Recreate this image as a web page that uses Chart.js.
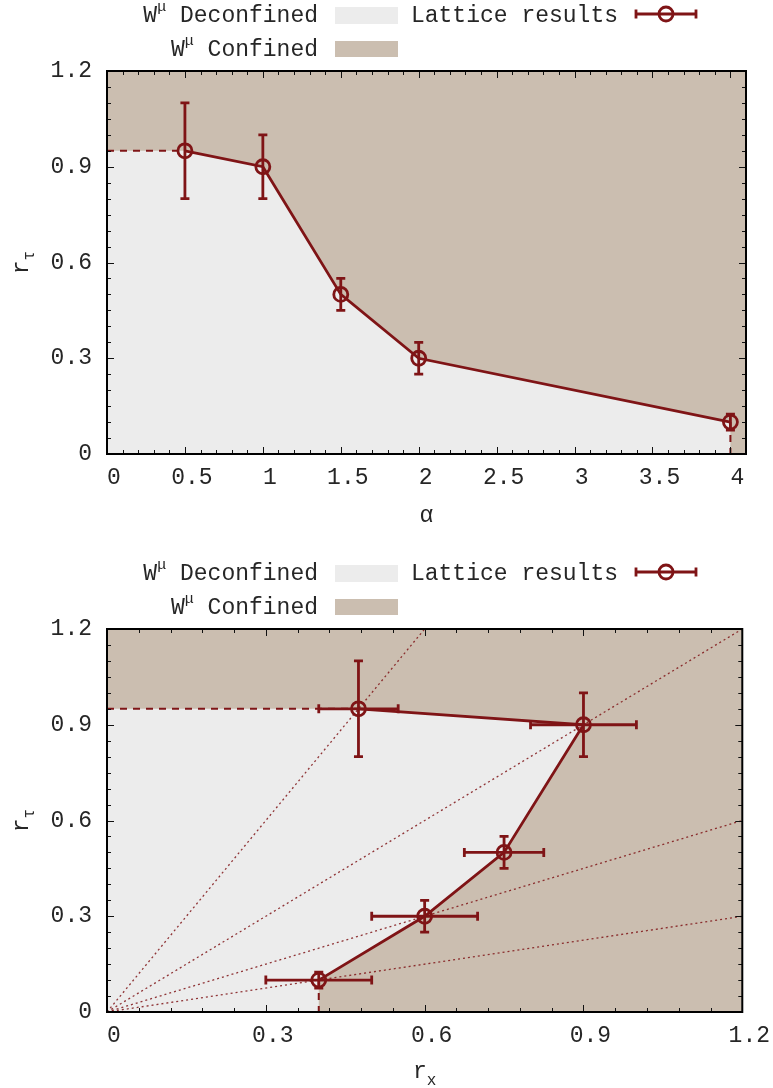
<!DOCTYPE html>
<html>
<head>
<meta charset="utf-8">
<title>Diagrama de fases</title>
<script src="https://cdn.jsdelivr.net/npm/chart.js@4.4.1/dist/chart.umd.min.js"></script>
<style>
  body { margin: 0; background: #ffffff; }
  canvas { display: block; }
</style>
</head>
<body>
<canvas id="graficoAlfa" width="773" height="558"></canvas>
<canvas id="graficoRx" width="773" height="530"></canvas>
<script>
// valores
var alfa = [0.5, 1, 1.5, 2, 4]
var rTau = [0.95, 0.9, 0.5, 0.3, 0.1]
var erroTau = [0.15, 0.1, 0.05, 0.05, 0.025]
var rX = [0.475, 0.9, 0.75, 0.6, 0.4]
var erroRx = [0.075, 0.1, 0.075, 0.1, 0.1]
var alfaRetas = [0.5, 1, 2, 4]

var ticksAlfa = [0, 0.5, 1, 1.5, 2, 2.5, 3, 3.5, 4]
var ticksRx = [0, 0.3, 0.6, 0.9, 1.2]
var ticksRTau = [0, 0.3, 0.6, 0.9, 1.2]

var vermelho = '#7f1416'
var corConfinado = '#cbbeb0'
var corDesconfinado = '#ececec'
var corTexto = '#262626'
var fonte = '"Liberation Mono", monospace'

function textoW(ctx, direita, y, resto) {
    ctx.font = '23px ' + fonte
    var lResto = ctx.measureText(' ' + resto).width
    var lW = ctx.measureText('W').width
    ctx.font = '15px ' + fonte
    var lMu = ctx.measureText('μ').width
    var x = direita - lResto - lMu - lW
    ctx.textAlign = 'left'
    ctx.textBaseline = 'alphabetic'
    ctx.font = '23px ' + fonte
    ctx.fillText('W', x, y)
    ctx.fillText(' ' + resto, direita - lResto, y)
    ctx.font = '15px ' + fonte
    ctx.fillText('μ', x + lW, y - 11)
}

function desenharLegenda(ctx) {
    ctx.save()
    ctx.fillStyle = corTexto
    textoW(ctx, 318, 22, 'Deconfined')
    textoW(ctx, 318, 56, 'Confined')
    ctx.font = '23px ' + fonte
    ctx.textAlign = 'right'
    ctx.fillText('Lattice results', 618, 22)

    ctx.fillStyle = corDesconfinado
    ctx.fillRect(335, 7, 63, 17)
    ctx.fillStyle = corConfinado
    ctx.fillRect(335, 41, 63, 16)

    ctx.strokeStyle = vermelho
    ctx.lineWidth = 2.8
    ctx.beginPath()
    ctx.moveTo(636, 14); ctx.lineTo(696, 14)
    ctx.moveTo(636, 9.5); ctx.lineTo(636, 18.5)
    ctx.moveTo(696, 9.5); ctx.lineTo(696, 18.5)
    ctx.stroke()
    ctx.beginPath()
    ctx.arc(666, 14, 7, 0, Math.PI * 2)
    ctx.stroke()
    ctx.restore()
}

var pluginMoldura = {
    id: 'moldura',
    beforeDraw: function (chart) {
        var a = chart.chartArea
        var ctx = chart.ctx
        ctx.save()
        ctx.fillStyle = corConfinado
        ctx.fillRect(a.left, a.top, a.right - a.left, a.bottom - a.top)
        ctx.restore()
    },
    afterDatasetsDraw: function (chart, args, op) {
        var ctx = chart.ctx
        var ex = chart.scales.x, ey = chart.scales.y
        ctx.save()
        ctx.strokeStyle = vermelho
        ctx.lineWidth = 2.8
        for (var i = 0; i < op.xs.length; i++) {
            var px = ex.getPixelForValue(op.xs[i])
            var py = ey.getPixelForValue(op.ys[i])
            var y1 = ey.getPixelForValue(op.ys[i] - op.erroY[i])
            var y2 = ey.getPixelForValue(op.ys[i] + op.erroY[i])
            ctx.beginPath()
            ctx.moveTo(px, y1); ctx.lineTo(px, y2)
            ctx.moveTo(px - 4.5, y1); ctx.lineTo(px + 4.5, y1)
            ctx.moveTo(px - 4.5, y2); ctx.lineTo(px + 4.5, y2)
            if (op.erroX) {
                var x1 = ex.getPixelForValue(op.xs[i] - op.erroX[i])
                var x2 = ex.getPixelForValue(op.xs[i] + op.erroX[i])
                ctx.moveTo(x1, py); ctx.lineTo(x2, py)
                ctx.moveTo(x1, py - 4.5); ctx.lineTo(x1, py + 4.5)
                ctx.moveTo(x2, py - 4.5); ctx.lineTo(x2, py + 4.5)
            }
            ctx.stroke()
        }
        ctx.restore()
    },
    afterDraw: function (chart, args, op) {
        var ctx = chart.ctx
        var a = chart.chartArea
        var ex = chart.scales.x, ey = chart.scales.y
        ctx.save()
        // marcas para dentro nos quatro lados
        ctx.strokeStyle = '#111'
        ctx.lineWidth = 1
        ctx.beginPath()
        for (var k = 0; k * op.passoX <= ex.max + 1e-9; k++) {
            var px = Math.round(ex.getPixelForValue(k * op.passoX)) + 0.5
            var t = (k % op.subX == 0) ? 7 : 4
            ctx.moveTo(px, a.bottom); ctx.lineTo(px, a.bottom - t)
            ctx.moveTo(px, a.top); ctx.lineTo(px, a.top + t)
        }
        for (var k = 0; k * op.passoY <= ey.max + 1e-9; k++) {
            var py = Math.round(ey.getPixelForValue(k * op.passoY)) + 0.5
            var t = (k % op.subY == 0) ? 7 : 4
            ctx.moveTo(a.left, py); ctx.lineTo(a.left + t, py)
            ctx.moveTo(a.right, py); ctx.lineTo(a.right - t, py)
        }
        ctx.stroke()
        ctx.strokeStyle = '#000'
        ctx.lineWidth = 2
        ctx.strokeRect(a.left, a.top, a.right - a.left, a.bottom - a.top)

        // titulos dos eixos
        ctx.fillStyle = corTexto
        ctx.textBaseline = 'alphabetic'
        var cx = (a.left + a.right) / 2
        ctx.font = '23px ' + fonte
        if (op.subTitulo) {
            var l1 = ctx.measureText(op.tituloX).width
            ctx.font = '16px ' + fonte
            var l2 = ctx.measureText(op.subTitulo).width
            var x0 = cx - (l1 + l2) / 2
            ctx.font = '23px ' + fonte
            ctx.textAlign = 'left'
            ctx.fillText(op.tituloX, x0, 520)
            ctx.font = '16px ' + fonte
            ctx.fillText(op.subTitulo, x0 + l1, 527)
        } else {
            ctx.textAlign = 'center'
            ctx.fillText(op.tituloX, cx, 522)
        }

        ctx.translate(28, (a.top + a.bottom) / 2)
        ctx.rotate(-Math.PI / 2)
        ctx.font = '23px ' + fonte
        var lr = ctx.measureText('r').width
        ctx.font = '16px ' + fonte
        var lt = ctx.measureText('τ').width
        ctx.textAlign = 'left'
        ctx.font = '23px ' + fonte
        ctx.fillText('r', -(lr + lt) / 2, 0)
        ctx.font = '16px ' + fonte
        ctx.fillText('τ', -(lr + lt) / 2 + lr, 6)
        ctx.restore()

        desenharLegenda(ctx)
    }
}

function criarGrafico(idCanvas, xs, erroXs, ticksX, maxX, passoMenorX, tituloX, subTitulo, retas) {
    var canvas = document.getElementById(idCanvas)
    var alturaEixoX = canvas.height - 454
    var n = xs.length
    var maxY = ticksRTau[ticksRTau.length - 1]

    var pontos = xs.map(function (x, i) { return {x: x, y: rTau[i]} })
    var fronteira = [{x: 0, y: 0}, {x: 0, y: rTau[0]}].concat(pontos, [{x: xs[n - 1], y: 0}])

    var datasets = [
        {
            label: 'Lattice results',
            data: pontos,
            borderColor: vermelho,
            borderWidth: 2.8,
            pointRadius: 7,
            pointBorderWidth: 2.8,
            pointBackgroundColor: 'rgba(0,0,0,0)',
            pointBorderColor: vermelho,
            fill: false,
            order: 0
        },
        {
            data: [{x: 0, y: rTau[0]}, {x: xs[0], y: rTau[0]}],
            borderColor: vermelho,
            borderWidth: 2,
            borderDash: [7, 6],
            pointRadius: 0,
            fill: false,
            order: 1
        },
        {
            data: [{x: xs[n - 1], y: rTau[n - 1]}, {x: xs[n - 1], y: 0}],
            borderColor: vermelho,
            borderWidth: 2,
            borderDash: [7, 6],
            pointRadius: 0,
            fill: false,
            order: 1
        },
        {
            label: 'W Deconfined',
            data: fronteira,
            borderColor: 'rgba(0,0,0,0)',
            borderWidth: 0,
            backgroundColor: corDesconfinado,
            pointRadius: 0,
            fill: 'shape',
            order: 9
        }
    ]

    retas.forEach(function (a) {
        var xFim = Math.min(maxX, a * maxY)
        datasets.push({
            data: [{x: 0, y: 0}, {x: xFim, y: xFim / a}],
            borderColor: 'rgba(127,20,22,0.85)',
            borderWidth: 1.3,
            borderDash: [2, 3],
            pointRadius: 0,
            fill: false,
            order: 3
        })
    })

    var fonteTicks = {family: fonte, size: 23}

    return new Chart(canvas, {
        type: 'line',
        data: {datasets: datasets},
        plugins: [pluginMoldura],
        options: {
            responsive: false,
            animation: false,
            events: [],
            layout: {padding: {top: 71, right: 27, left: 0, bottom: 0}},
            plugins: {
                legend: {display: false},
                tooltip: {enabled: false},
                moldura: {
                    xs: xs, ys: rTau, erroY: erroTau, erroX: erroXs,
                    passoX: passoMenorX, subX: 5, passoY: 0.05, subY: 6,
                    tituloX: tituloX, subTitulo: subTitulo
                }
            },
            scales: {
                x: {
                    type: 'linear',
                    min: 0,
                    max: maxX,
                    grid: {display: false, drawTicks: false},
                    border: {display: false},
                    afterBuildTicks: function (escala) { escala.ticks = ticksX.map(function (v) { return {value: v} }) },
                    afterFit: function (escala) { escala.height = alturaEixoX },
                    ticks: {
                        font: fonteTicks, color: corTexto, padding: 10, labelOffset: 7,
                        maxRotation: 0, autoSkip: false,
                        callback: function (v) { return String(v) }
                    }
                },
                y: {
                    type: 'linear',
                    min: 0,
                    max: maxY,
                    grid: {display: false, drawTicks: false},
                    border: {display: false},
                    afterBuildTicks: function (escala) { escala.ticks = ticksRTau.map(function (v) { return {value: v} }) },
                    afterFit: function (escala) { escala.width = 107 },
                    ticks: {
                        font: fonteTicks, color: corTexto, padding: 15, autoSkip: false,
                        callback: function (v) { return String(v) }
                    }
                }
            }
        }
    })
}

criarGrafico('graficoAlfa', alfa, null, ticksAlfa, 4.1, 0.1, 'α', null, [])
criarGrafico('graficoRx', rX, erroRx, ticksRx, 1.2, 0.06, 'r', 'x', alfaRetas)
</script>
</body>
</html>
